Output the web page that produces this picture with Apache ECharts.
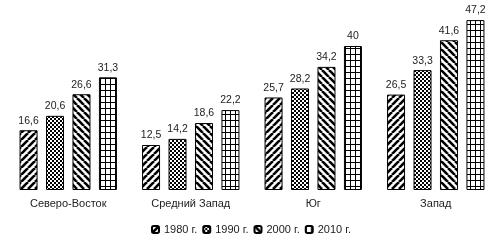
<!DOCTYPE html>
<html><head><meta charset="utf-8">
<script src="https://cdn.jsdelivr.net/npm/echarts@6/dist/echarts.min.js"></script>
<style>html,body{margin:0;padding:0;background:#fff}#c{width:502px;height:241px}</style>
</head><body><div id="c"></div>
<script>
const categories = ['Северо-Восток', 'Средний Запад', 'Юг', 'Запад'];
const seriesNames = ['1980 г.', '1990 г.', '2000 г.', '2010 г.'];
const v1980 = [16.6, 12.5, 25.7, 26.5];
const v1990 = [20.6, 14.2, 28.2, 33.3];
const v2000 = [26.6, 18.6, 34.2, 41.6];
const v2010 = [31.3, 22.2, 40, 47.2];
const values = [v1980, v1990, v2000, v2010];

function tile(w, h, draw) {
  const c = document.createElement('canvas');
  c.width = w; c.height = h;
  const g = c.getContext('2d');
  g.fillStyle = '#fff'; g.fillRect(0, 0, w, h);
  draw(g, w, h);
  return c;
}
function diag(forward) {
  return tile(7, 7, (g, s) => {
    g.strokeStyle = '#000'; g.lineWidth = 2.6;
    for (let k = -1; k <= 1; k++) {
      g.beginPath();
      if (forward) { g.moveTo(k * s, s); g.lineTo(k * s + s, 0); }
      else { g.moveTo(k * s, 0); g.lineTo(k * s + s, s); }
      g.stroke();
    }
  });
}
const checker = tile(4, 4, (g) => {
  g.fillStyle = '#000';
  g.fillRect(0, 0, 2, 2); g.fillRect(2, 2, 2, 2);
});
const gridPat = tile(5, 6, (g) => {
  g.fillStyle = '#000';
  g.fillRect(0, 0, 5, 1); g.fillRect(0, 0, 1, 6);
});
const patterns = [diag(true), checker, diag(false), gridPat];

const chart = echarts.init(document.getElementById('c'));
chart.setOption({
  animation: false,
  textStyle: { fontFamily: 'Liberation Sans' },
  grid: { left: 7, right: 5, top: 10, bottom: 51 },
  legend: {
    top: 219, left: 'center', itemWidth: 7, itemHeight: 7, itemGap: 5,
    textStyle: { fontSize: 11, color: '#222', fontFamily: 'Liberation Sans' },
    data: seriesNames
  },
  xAxis: {
    type: 'category', data: categories,
    axisLine: { show: false }, axisTick: { show: false },
    axisLabel: { fontSize: 11, color: '#222', margin: 8, fontFamily: 'Liberation Sans' }
  },
  yAxis: { type: 'value', min: 0, max: 50, show: false, splitLine: { show: false } },
  series: seriesNames.map((n, i) => ({
    name: n, type: 'bar', data: values[i], barWidth: 18, barGap: '47%',
    itemStyle: { color: { image: patterns[i], repeat: 'repeat' }, borderColor: '#000', borderWidth: 1 },
    label: {
      show: true, position: 'top', distance: 4, fontSize: 10.5, color: '#222',
      fontFamily: 'Liberation Sans',
      formatter: (p) => String(p.value).replace('.', ',')
    }
  }))
});
</script></body></html>
